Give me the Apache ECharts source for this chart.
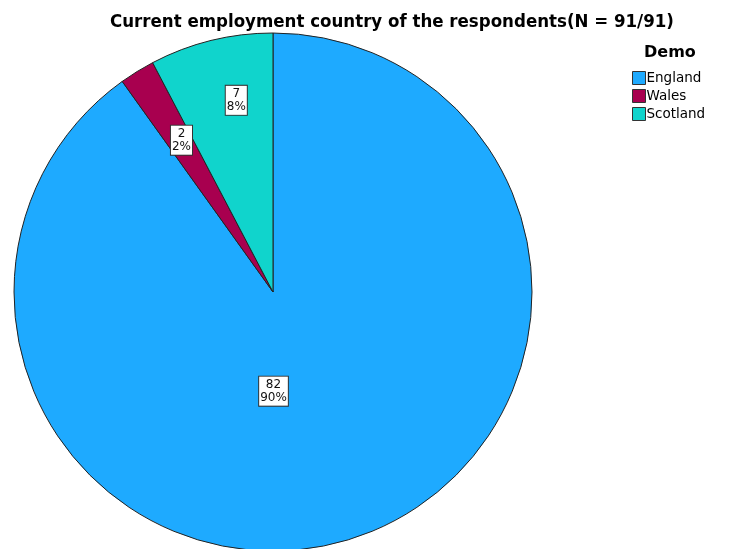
<!DOCTYPE html>
<html>
<head>
<meta charset="utf-8">
<script src="https://cdn.jsdelivr.net/npm/echarts@6/dist/echarts.min.js"></script>
<style>
    html, body { margin: 0; padding: 0; background: #ffffff; }
    #chart { width: 750px; height: 549px; }
</style>
</head>
<body>
<div id="chart"></div>
<script>
const countries = ["England", "Wales", "Scotland"];
const counts = [82, 2, 7];
const percents = ["90%", "2%", "8%"];
const colors = ["#1eaaff", "#a8004f", "#10d4cc"];

// nudges so the boxes sit roughly where SPSS put them
const labelOffsets = [[-40, -27], [-22, -39], [-5, -63]];

const chart = echarts.init(document.getElementById("chart"));

const fontFamily = "'Liberation Sans Narrow', 'DejaVu Sans Condensed', sans-serif";

chart.setOption({
    animation: false,
    title: [
        {
            text: "Current employment country of the respondents(N = 91/91)",
            left: 387,
            top: 8,
            textAlign: "center",
            textStyle: {
                fontFamily: fontFamily,
                fontSize: 18.5,
                fontWeight: "bold",
                color: "#000000"
            }
        },
        {
            text: "Demo",
            left: 639,
            top: 40,
            textStyle: {
                fontFamily: "'DejaVu Sans', sans-serif",
                fontSize: 16,
                fontWeight: "bold",
                color: "#000000"
            }
        }
    ],
    legend: {
        orient: "vertical",
        left: 627,
        top: 66,
        itemWidth: 13,
        itemHeight: 13,
        itemGap: 4,
        icon: "rect",
        itemStyle: {
            borderColor: "#333333",
            borderWidth: 1
        },
        textStyle: {
            fontFamily: "'DejaVu Sans', sans-serif",
            fontSize: 13.5,
            color: "#000000",
            padding: [0, 0, 0, -4]
        },
        data: countries
    },
    series: [
        {
            type: "pie",
            center: [273, 292],
            radius: 259,
            startAngle: 90,
            clockwise: true,
            silent: true,
            itemStyle: {
                borderColor: "#222222",
                borderWidth: 1
            },
            label: {
                position: "inside",
                fontFamily: "'DejaVu Sans', sans-serif",
                fontSize: 12,
                lineHeight: 13,
                color: "#111111",
                align: "center",
                backgroundColor: "#ffffff",
                borderColor: "#333333",
                borderWidth: 1,
                padding: [2, 1, 1, 1]
            },
            labelLine: { show: false },
            data: countries.map((name, i) => ({
                name: name,
                value: counts[i],
                itemStyle: { color: colors[i] },
                label: {
                    formatter: `${counts[i]}\n${percents[i]}`,
                    offset: labelOffsets[i]
                }
            }))
        }
    ]
});
</script>
</body>
</html>
